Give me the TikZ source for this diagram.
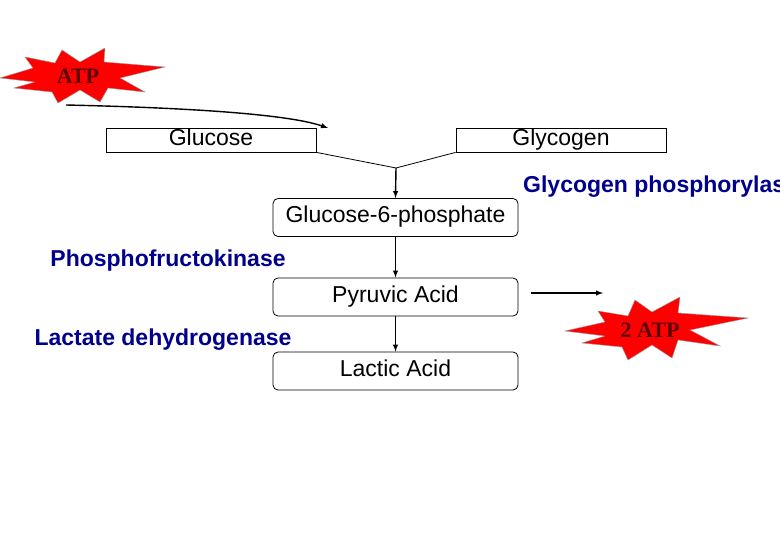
\documentclass[tikz,border=0pt]{standalone}
\usepackage{fontspec}
\setmainfont{Liberation Sans}
\newfontfamily\atpfont{Liberation Serif}
\begin{document}
\begin{tikzpicture}[x=1pt,y=-1pt,
 box/.style={draw,line width=0.8,minimum height=24,font=\fontsize{23}{25}\selectfont,inner sep=0,text height=16,text depth=5},
 rbox/.style={box,rounded corners=5,minimum height=38},
 enz/.style={text=blue!55!black,font=\bfseries\fontsize{23}{25}\selectfont,inner sep=0},
 burst/.style={fill=red,draw=black!40,thin},
 atp/.style={font=\atpfont\bfseries\fontsize{22}{24}\selectfont,text=black!65!red,inner sep=0},
 arr/.style={-latex,line width=1.4}]
\useasboundingbox (0,0) rectangle (780,540);
\clip (0,0) rectangle (780,540);
\node[box,minimum width=210] (glu) at (211,140) {Glucose};
\node[box,minimum width=210] (gly) at (561,140) {Glycogen};
\node[rbox,minimum width=245] (g6p) at (395.5,217.5) {Glucose-6-phosphate};
\node[rbox,minimum width=245] (pyr) at (395.5,297) {Pyruvic Acid};
\node[rbox,minimum width=245] (lac) at (395.5,371) {Lactic Acid};
\coordinate (m) at (396,168);
\draw[line width=0.8] (glu.south east) -- (m) -- (gly.south west);
\draw[arr] (m) -- (g6p.north);
\draw[arr] (g6p.south) -- (pyr.north);
\draw[arr] (pyr.south) -- (lac.north);
\node[enz,anchor=west] (gp) at (523,187) {Glycogen phosphorylase};
\node[enz] (pfk) at (168,261) {Phosphofructokinase};
\node[enz] (ldh) at (163,340) {Lactate dehydrogenase};
% ATP burst
\draw[burst] (0,78) -- (33,68) -- (25,57) -- (55,63) -- (62,50) -- (80,62) -- (105,48) -- (104,62) -- (165,67) -- (120,78) -- (145,92) -- (108,88) -- (100,102) -- (80,90) -- (58,103) -- (52,92) -- (14,88) -- (35,82) -- cycle;
\node[atp] (atp1) at (78,76) {ATP};
\coordinate (c1) at (66,105);
\draw[arr] (c1) .. controls (200,108) and (290,115) .. (328,128);
% 2 ATP burst
\draw[burst] (565,331) -- (605,322) -- (598,311) -- (628,316) -- (635,300) -- (652,312) -- (680,297) -- (678,313) -- (748,318) -- (690,330) -- (720,346) -- (678,340) -- (672,358) -- (652,345) -- (628,360) -- (622,347) -- (582,343) -- (605,336) -- cycle;
\node[atp] (atp2) at (650,330) {2 ATP};
\coordinate (a1) at (531,293);
\coordinate (a2) at (603,293);
\draw[arr] (a1) -- (a2);
\end{tikzpicture}
\end{document}
